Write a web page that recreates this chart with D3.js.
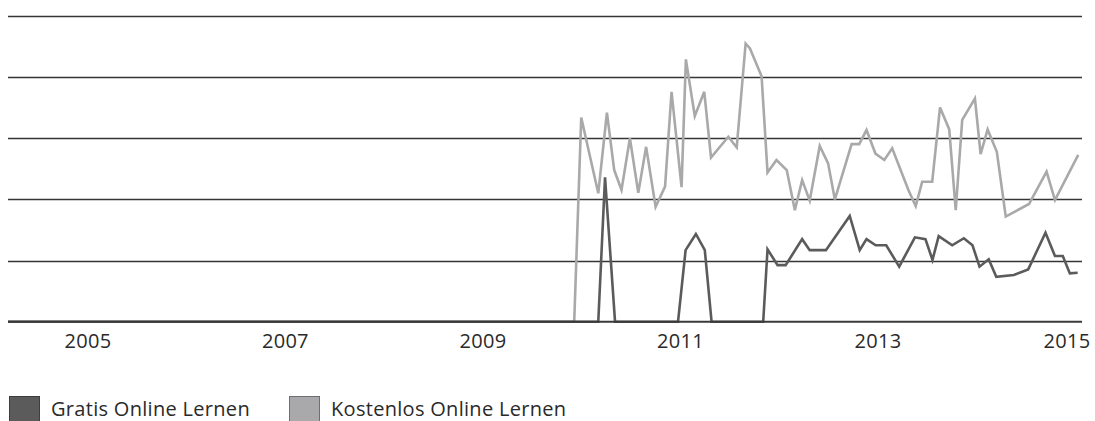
<!DOCTYPE html>
<html>
<head>
<meta charset="utf-8">
<script src="https://cdn.jsdelivr.net/npm/d3@7"></script>
<style>
  body { margin: 0; background: #fff; }
  text { font-family: "Open Sans", "DejaVu Sans", sans-serif; fill: #2a2a2a; }
</style>
</head>
<body>
<script>
// series names (legend)
const seriesNames = ["Gratis Online Lernen", "Kostenlos Online Lernen"];
const seriesColors = ["#5b5b5b", "#a9a9ab"];
const legendBorders = ["#3e3e3e", "#6e6e70"];

// Gratis Online Lernen
const gratisDates = ["2004-03-13", "2010-03-05", "2010-03-30", "2010-05-06", "2010-12-25", "2011-01-22",
  "2011-03-01", "2011-04-03", "2011-04-28", "2011-11-05", "2011-11-21", "2011-12-28", "2012-01-27",
  "2012-03-28", "2012-04-25", "2012-06-24", "2012-09-20", "2012-10-27", "2012-11-21", "2012-12-25",
  "2013-02-02", "2013-03-22", "2013-05-19", "2013-06-27", "2013-07-23", "2013-08-15", "2013-10-04",
  "2013-11-16", "2013-12-18", "2014-01-13", "2014-02-16", "2014-03-16", "2014-05-20", "2014-07-12",
  "2014-09-14", "2014-10-19", "2014-11-17", "2014-12-13", "2015-01-11"];
const gratisValues = [0, 0, 47.2, 0, 0, 23.4,
  28.7, 23.4, 0, 0, 23.7, 18.5, 18.5,
  27, 23.4, 23.4, 34.6, 23.4, 27, 25,
  25, 18, 27.6, 27, 20.2, 28, 25,
  27.3, 25, 18, 20.4, 14.7, 15.3, 17.1,
  29.1, 21.5, 21.5, 15.8, 16];

// Kostenlos Online Lernen
const kostenlosDates = ["2004-03-13", "2009-12-06", "2010-01-01", "2010-03-05", "2010-04-06", "2010-05-03",
  "2010-05-30", "2010-06-30", "2010-07-31", "2010-08-29", "2010-10-03", "2010-11-07", "2010-12-01",
  "2011-01-07", "2011-01-23", "2011-02-25", "2011-04-01", "2011-04-26", "2011-06-29", "2011-07-30",
  "2011-09-01", "2011-09-17", "2011-10-30", "2011-11-21", "2011-12-24", "2012-01-31", "2012-03-01",
  "2012-03-28", "2012-04-25", "2012-06-01", "2012-07-02", "2012-07-27", "2012-09-27", "2012-10-25",
  "2012-11-21", "2012-12-24", "2013-01-26", "2013-02-24", "2013-04-25", "2013-05-22", "2013-06-15",
  "2013-07-22", "2013-08-20", "2013-09-23", "2013-10-17", "2013-11-10", "2013-12-27", "2014-01-17",
  "2014-02-12", "2014-03-18", "2014-04-20", "2014-07-15", "2014-09-18", "2014-10-19", "2015-01-13"];
const kostenlosValues = [0, 0, 66.8, 42, 68.4, 49.6,
  43.1, 60, 42.2, 57.2, 37.6, 44.2, 75.2,
  44, 85.8, 67.3, 75.2, 53.7, 60.5, 57,
  91, 89.4, 80.3, 48.8, 52.9, 49.6, 36.5,
  46.3, 39.6, 57.5, 51.8, 40, 58.1, 58.1,
  62.7, 55, 52.9, 56.7, 43.1, 37.8, 45.8,
  45.8, 70.1, 62.9, 36.5, 66, 73, 54.8,
  62.9, 55.6, 34.4, 38.5, 49.1, 39.8, 54.6];

// x axis labels and grid
const yearTicks = [2005, 2007, 2009, 2011, 2013, 2015];
const gridValues = [20, 40, 60, 80, 100];

var width = 1095, height = 421;
var plot = {left: 8, right: 1082, top: 16, bottom: 321.7};

var parse = d3.timeParse("%Y-%m-%d");

var x = d3.scaleTime()
    .domain([parse("2004-03-13"), parse("2015-01-27")])
    .range([plot.left, plot.right]);

var y = d3.scaleLinear()
    .domain([0, 100])
    .range([plot.bottom, plot.top]);

var svg = d3.select("body").append("svg")
    .attr("width", width)
    .attr("height", height);

// horizontal grid lines
svg.append("g").selectAll("line")
    .data(gridValues)
  .enter().append("line")
    .attr("x1", plot.left)
    .attr("x2", plot.right)
    .attr("y1", d => Math.round(y(d)) + 0.5)
    .attr("y2", d => Math.round(y(d)) + 0.5)
    .attr("stroke", "#353535")
    .attr("stroke-width", 1.3);

// x axis (labels only, the baseline is drawn separately)
var xAxis = svg.append("g")
    .attr("transform", "translate(0," + plot.bottom + ")")
    .call(d3.axisBottom(x)
      .tickValues(yearTicks.map(d => new Date(d, 0, 1)))
      .tickFormat(d3.timeFormat("%Y"))
      .tickSize(0)
      .tickPadding(12));
xAxis.select(".domain").remove();
xAxis.selectAll("text")
    .attr("font-size", 20)
    .attr("fill", "#2a2a2a")
    .attr("letter-spacing", "0.3px")
    .attr("dy", "0.71em");
// keep the last label inside the page
xAxis.selectAll(".tick").each(function(d) {
  var t = d3.select(this).select("text");
  var w = t.node().getComputedTextLength();
  var px = x(d);
  if (px + w / 2 > width - 5) t.attr("x", (width - 5 - w / 2) - px);
});

var line = d3.line()
    .x(d => x(d.date))
    .y(d => y(d.value));

var series = [
  gratisDates.map((d, i) => ({date: parse(d), value: gratisValues[i]})),
  kostenlosDates.map((d, i) => ({date: parse(d), value: kostenlosValues[i]}))
];

// light line first, dark on top
[1, 0].forEach(function(k) {
  svg.append("path")
      .datum(series[k])
      .attr("fill", "none")
      .attr("stroke", seriesColors[k])
      .attr("stroke-width", 2.6)
      .attr("stroke-linejoin", "miter")
      .attr("d", line);
});

// baseline
svg.append("line")
    .attr("x1", plot.left)
    .attr("x2", plot.right)
    .attr("y1", y(0))
    .attr("y2", y(0))
    .attr("stroke", "#3a3a3a")
    .attr("stroke-width", 2);

// legend
var legendX = [9, 289];
var legend = svg.append("g").selectAll("g")
    .data(seriesNames)
  .enter().append("g")
    .attr("transform", (d, i) => "translate(" + legendX[i] + ",396)");

legend.append("rect")
    .attr("x", 0.5)
    .attr("y", 0.5)
    .attr("width", 30)
    .attr("height", 30)
    .attr("fill", (d, i) => seriesColors[i])
    .attr("stroke", (d, i) => legendBorders[i]);

legend.append("text")
    .attr("x", 42)
    .attr("y", 20)
    .attr("font-size", 20)
    .attr("letter-spacing", "0.3px")
    .text(d => d);
</script>
</body>
</html>
